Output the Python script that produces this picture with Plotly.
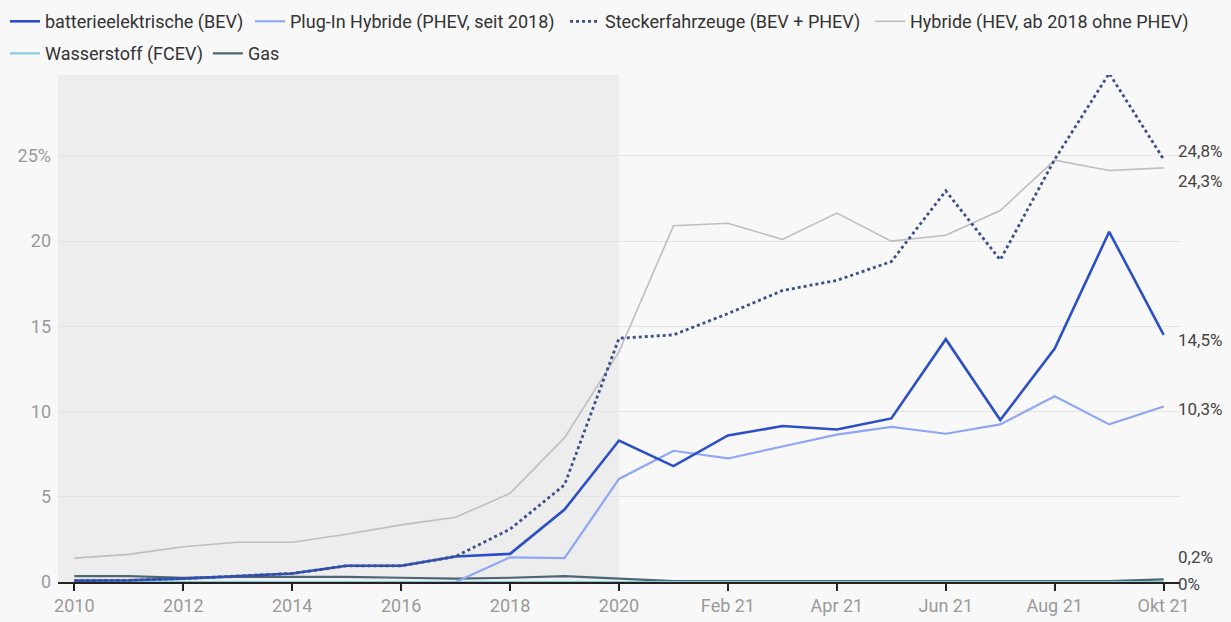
import plotly.graph_objects as go

categories = ["2010", "2011", "2012", "2013", "2014", "2015", "2016", "2017", "2018", "2019", "2020",
              "Jan 21", "Feb 21", "Mär 21", "Apr 21", "Mai 21", "Jun 21", "Jul 21", "Aug 21", "Sep 21", "Okt 21"]

bev = [0.08, 0.1, 0.2, 0.35, 0.5, 0.95, 0.95, 1.5, 1.65, 4.25, 8.3,
       6.8, 8.6, 9.15, 8.95, 9.6, 14.25, 9.5, 13.7, 20.55, 14.5]
phev = [None, None, None, None, None, None, None, 0.0, 1.45, 1.4, 6.05,
        7.7, 7.25, 7.95, 8.65, 9.1, 8.7, 9.25, 10.9, 9.25, 10.3]
stecker = [0.08, 0.1, 0.2, 0.35, 0.5, 0.95, 0.95, 1.5, 3.1, 5.7, 14.3,
           14.5, 15.75, 17.1, 17.7, 18.8, 22.95, 18.9, 24.8, 29.85, 24.8]
hybride = [1.4, 1.62, 2.07, 2.33, 2.33, 2.8, 3.35, 3.8, 5.2, 8.47, 13.5,
           20.9, 21.05, 20.1, 21.65, 20.0, 20.35, 21.8, 24.75, 24.15, 24.3]
fcev = [0.0] * 21
gas = [0.35, 0.35, 0.25, 0.3, 0.3, 0.3, 0.25, 0.2, 0.25, 0.35, 0.2,
       0.05, 0.05, 0.05, 0.05, 0.05, 0.05, 0.05, 0.05, 0.05, 0.15]

names = ["batterieelektrische (BEV)", "Plug-In Hybride (PHEV, seit 2018)",
         "Steckerfahrzeuge (BEV + PHEV)", "Hybride (HEV, ab 2018 ohne PHEV)",
         "Wasserstoff (FCEV)", "Gas"]
end_labels = ["14,5%", "10,3%", "24,8%", "24,3%", "0%", "0,2%"]
end_shift = [-5, -3, 8, -13, -2, 22]

x_tickvals = ["2010", "2012", "2014", "2016", "2018", "2020", "Feb 21", "Apr 21", "Jun 21", "Aug 21", "Okt 21"]
y_tickvals = [0, 5, 10, 15, 20, 25]
y_ticktext = ["0", "5", "10", "15", "20", "25%"]

series = [bev, phev, stecker, hybride, fcev, gas]
colors = ["#2b4fc6", "#8fa6f4", "#3b4f8c", "#bdbdc4", "#86cde0", "#4d6671"]
widths = [2.6, 2.2, 2.8, 1.6, 2.2, 2.2]
dashes = ["solid", "solid", "dot", "solid", "solid", "solid"]
legends = ["legend", "legend2", "legend3", "legend4", "legend5", "legend5"]

fig = go.Figure()
draw_order = [3, 5, 4, 1, 0, 2]
for i in draw_order:
    fig.add_trace(go.Scatter(
        x=categories, y=series[i], name=names[i], mode="lines",
        line=dict(color=colors[i], width=widths[i], dash=dashes[i]),
        legend=legends[i], legendrank=i + 1,
        connectgaps=False, hoverinfo="skip"))

for i in range(6):
    fig.add_annotation(x=categories[-1], y=series[i][-1], text=end_labels[i],
                       xref="x", yref="y", xanchor="left", yanchor="middle",
                       xshift=12, yshift=end_shift[i], showarrow=False,
                       font=dict(family="Roboto", size=17, color="#444444"))

fig.add_shape(type="rect", xref="x", yref="paper", x0=-0.3, x1=10, y0=0, y1=1,
              fillcolor="#ededed", line=dict(width=0), layer="below")


def leg(xpx, y):
    return dict(orientation="h", x=xpx / 1231, y=y, xref="container", yref="container",
                xanchor="left", yanchor="top", font=dict(size=18, color="#333333"),
                bgcolor="rgba(0,0,0,0)", traceorder="normal", itemwidth=30)


fig.update_layout(
    width=1231, height=622,
    margin=dict(l=58, r=51, t=75, b=40, autoexpand=False),
    paper_bgcolor="#f8f8f8", plot_bgcolor="#f8f8f8",
    font=dict(family="Roboto", size=18, color="#333333"),
    showlegend=True,
    legend=leg(5, 0.995),
    legend2=leg(250, 0.995),
    legend3=leg(565, 0.995),
    legend4=leg(870, 0.995),
    legend5=leg(5, 0.9435),
)
fig.update_xaxes(type="category", categoryorder="array", categoryarray=categories,
                 range=[-0.3, 20.3], tickmode="array", tickvals=x_tickvals,
                 ticktext=x_tickvals, showgrid=False, showline=True,
                 linecolor="#222222", linewidth=1.5, ticks="outside", ticklen=7,
                 tickcolor="#222222", tickwidth=1.5,
                 tickfont=dict(family="Roboto", size=18, color="#9a9a9a"), zeroline=False)
fig.update_yaxes(range=[0, 29.75], tickmode="array", tickvals=y_tickvals, ticktext=y_ticktext,
                 showgrid=True, gridcolor="#e4e4e4", gridwidth=1, zeroline=False,
                 showline=False, ticks="", ticklabelstandoff=6,
                 tickfont=dict(family="Roboto", size=18, color="#9a9a9a"))

fig.write_html("out.html", config={"displayModeBar": False},
               post_script="document.body.style.margin='0';document.body.style.overflow='hidden';document.body.style.background='#f8f8f8';")
